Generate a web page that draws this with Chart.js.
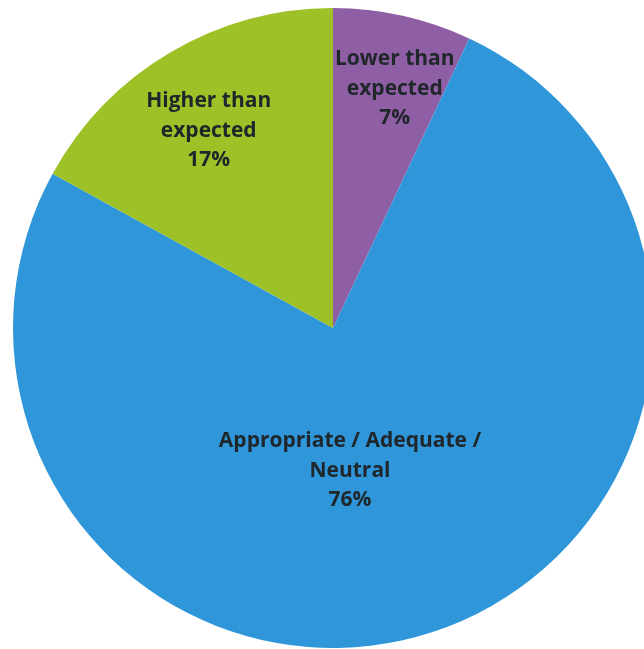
<!DOCTYPE html>
<html>
<head>
<meta charset="utf-8">
<script src="https://cdn.jsdelivr.net/npm/chart.js@4/dist/chart.umd.min.js"></script>
<style>
  html, body { margin: 0; padding: 0; background: #ffffff; overflow: hidden; width: 644px; height: 649px; }
  #wrap { position: absolute; left: 0; top: 8px; width: 666px; height: 640px; }
</style>
</head>
<body>
<div id="wrap"><canvas id="c" width="666" height="640"></canvas></div>
<script>
const categories = ["Lower than expected", "Appropriate / Adequate / Neutral", "Higher than expected"];
const labelLines = [["Lower than", "expected"], ["Appropriate / Adequate /", "Neutral"], ["Higher than", "expected"]];
const percentages = [7, 76, 17];
const sliceColors = ["#8F5FA6", "#2F96DA", "#9DC126"];

const labelPlacement = [
  { r: 0.77, dx: 8 },
  { r: 0.465, dx: -29 },
  { r: 0.72, dx: -7 }
];

const labelPlugin = {
  id: 'sliceLabels',
  afterDatasetsDraw(chart) {
    const ctx = chart.ctx;
    const meta = chart.getDatasetMeta(0);
    ctx.save();
    ctx.fillStyle = '#20272b';
    ctx.font = 'bold 21px "Open Sans"';
    ctx.textAlign = 'center';
    ctx.textBaseline = 'middle';
    const lh = 29.5;
    meta.data.forEach((arc, i) => {
      const p = arc.getProps(['x', 'y', 'startAngle', 'endAngle', 'outerRadius'], true);
      const mid = (p.startAngle + p.endAngle) / 2;
      const pl = labelPlacement[i];
      const cx = p.x + Math.cos(mid) * p.outerRadius * pl.r + pl.dx;
      const cy = p.y + Math.sin(mid) * p.outerRadius * pl.r + 1;
      const lines = labelLines[i].concat([percentages[i] + '%']);
      const n = lines.length;
      lines.forEach((t, k) => {
        ctx.fillText(t, cx, cy + (k - (n - 1) / 2) * lh);
      });
    });
    ctx.restore();
  }
};

new Chart(document.getElementById('c'), {
  type: 'pie',
  data: {
    labels: categories,
    datasets: [{
      data: percentages,
      backgroundColor: sliceColors,
      borderWidth: 0,
      hoverOffset: 0
    }]
  },
  options: {
    responsive: false,
    animation: false,
    layout: { padding: 0 },
    plugins: {
      legend: { display: false },
      tooltip: { enabled: false }
    }
  },
  plugins: [labelPlugin]
});
</script>
</body>
</html>
